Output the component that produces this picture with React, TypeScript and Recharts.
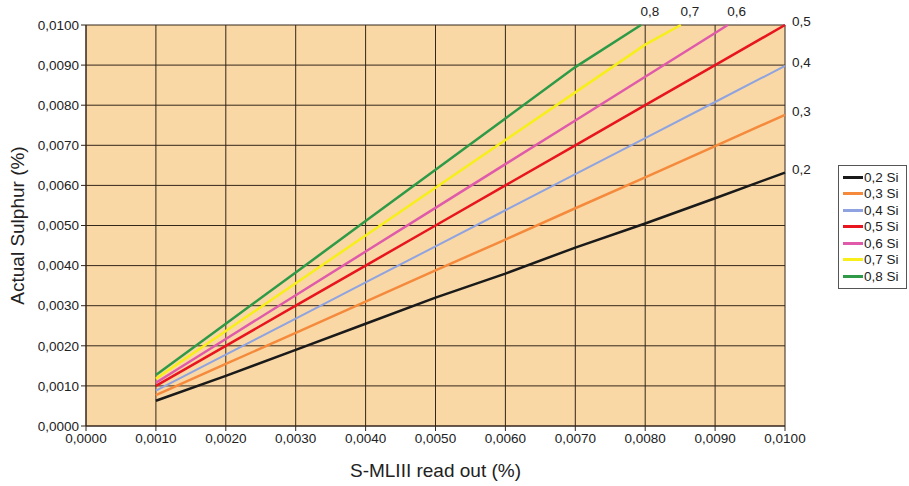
import React from 'react';
import {
  LineChart,
  Line,
  XAxis,
  YAxis,
  CartesianGrid,
  Label,
} from 'recharts';

// Read-out values (x) and actual sulphur (y), one curve per Si content
const siLevels = ['0,2', '0,3', '0,4', '0,5', '0,6', '0,7', '0,8'];
const siColors = ['#1a1a1a', '#f58a3c', '#8fa3e0', '#e8141e', '#e05aaa', '#f7ee1a', '#2e9a48'];

const readOut = [0.001, 0.002, 0.003, 0.004, 0.005, 0.006, 0.007, 0.008, 0.009, 0.01];

const si02 = [0.00063, 0.00125, 0.0019, 0.00255, 0.0032, 0.0038, 0.00445, 0.00505, 0.00568, 0.00632];
const si03 = [0.00077, 0.00155, 0.00232, 0.0031, 0.00388, 0.00465, 0.00543, 0.0062, 0.00698, 0.00776];
const si04 = [0.00088, 0.00178, 0.00268, 0.00358, 0.00448, 0.00538, 0.00628, 0.00718, 0.00808, 0.00898];
const si05 = [0.001, 0.002, 0.003, 0.004, 0.005, 0.006, 0.007, 0.008, 0.009, 0.01];
// curves that leave the top of the chart: last point is where they cross 0,0100
const si06 = [0.00108, 0.00217, 0.00326, 0.00435, 0.00544, 0.00653, 0.00762, 0.00871, 0.0098];
const si06End = 0.00918;
const si07 = [0.00118, 0.00237, 0.00356, 0.00475, 0.00594, 0.00713, 0.00832, 0.00951];
const si07End = 0.00851;
const si08 = [0.00127, 0.00255, 0.00383, 0.00511, 0.00639, 0.00767, 0.00895];
const si08End = 0.00794;

const xTicks = [0, 0.001, 0.002, 0.003, 0.004, 0.005, 0.006, 0.007, 0.008, 0.009, 0.01];
const yTicks = [0, 0.001, 0.002, 0.003, 0.004, 0.005, 0.006, 0.007, 0.008, 0.009, 0.01];

const fmt = (v: number) => v.toFixed(4).replace('.', ',');

const toSeries = (ys: number[], endX?: number) => {
  const pts = ys.map((y, i) => ({ x: readOut[i], y }));
  if (endX !== undefined) pts.push({ x: endX, y: 0.01 });
  return pts;
};

const series = [
  toSeries(si02),
  toSeries(si03),
  toSeries(si04),
  toSeries(si05),
  toSeries(si06, si06End),
  toSeries(si07, si07End),
  toSeries(si08, si08End),
];

const FONT = 'Liberation Sans, Arial, sans-serif';

const EndLabel = (props: any, text: string, count: number) => {
  const { x, y, index, value } = props;
  if (index !== count - 1) return null;
  const atTop = value >= 0.01 && text !== '0,5';
  if (atTop) {
    return (
      <text x={x + 9} y={y - 9} textAnchor="middle" fontSize={13.5} fill="#222" fontFamily={FONT}>
        {text}
      </text>
    );
  }
  return (
    <text x={x + 7} y={y + 1} textAnchor="start" fontSize={13.5} fill="#222" fontFamily={FONT}>
      {text}
    </text>
  );
};

export default function App() {
  return (
    <div style={{ position: 'absolute', left: 0, top: 0, width: 909, height: 486, background: '#fff', fontFamily: FONT }}>
      <LineChart width={909} height={486} margin={{ top: 25, right: 124, bottom: 0, left: 0 }}>
        <CartesianGrid stroke="#35261a" strokeWidth={1} fill="#f9d8a5" />
        <XAxis
          type="number"
          dataKey="x"
          domain={[0, 0.01]}
          ticks={xTicks}
          tickFormatter={fmt}
          height={60}
          stroke="#35261a"
          tickSize={5}
          tick={{ fill: '#222', fontSize: 13.5, fontFamily: FONT }}
        >
          <Label value="S-MLIII read out (%)" position="insideBottom" offset={9} fill="#222" fontSize={19} fontFamily={FONT} />
        </XAxis>
        <YAxis
          type="number"
          dataKey="y"
          domain={[0, 0.01]}
          ticks={yTicks}
          tickFormatter={fmt}
          width={86}
          stroke="#35261a"
          tickSize={5}
          tick={{ fill: '#222', fontSize: 13.5, fontFamily: FONT }}
        >
          <Label
            content={({ viewBox }: any) => {
              const cy = viewBox.y + viewBox.height / 2;
              return (
                <text x={17} y={cy} transform={`rotate(-90, 17, ${cy})`} textAnchor="middle" dominantBaseline="central" fontSize={19} fill="#222" fontFamily={FONT}>
                  Actual Sulphur (%)
                </text>
              );
            }}
          />
        </YAxis>
        {series.map((data, i) => (
          <Line
            key={siLevels[i]}
            data={data}
            dataKey="y"
            type="linear"
            stroke={siColors[i]}
            strokeWidth={i === 2 ? 2 : 2.5}
            dot={false}
            activeDot={false}
            isAnimationActive={false}
            label={(p: any) => EndLabel(p, siLevels[i], data.length)}
          />
        ))}
      </LineChart>
      <div
        style={{
          position: 'absolute',
          left: 838,
          top: 165,
          width: 69,
          border: '1px solid #555',
          background: '#fff',
          padding: '3px 0 3px 4px',
          boxSizing: 'border-box',
        }}
      >
        {siLevels.map((s, i) => (
          <div key={s} style={{ display: 'flex', alignItems: 'center', height: 16.5, fontSize: 13.5, color: '#222' }}>
            <span style={{ display: 'inline-block', width: 20, height: 3, background: siColors[i], marginRight: 1 }} />
            {s} Si
          </div>
        ))}
      </div>
    </div>
  );
}
